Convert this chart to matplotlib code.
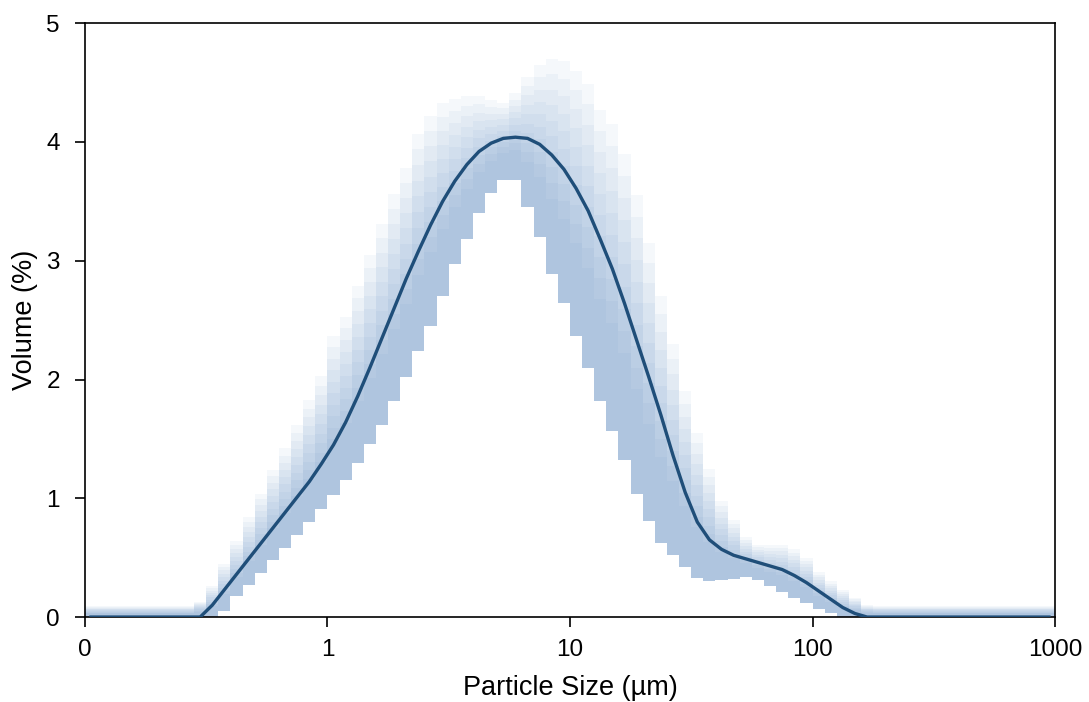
import numpy as np
import matplotlib
matplotlib.use("Agg")
import matplotlib.pyplot as plt

plt.rcParams['font.family'] = ['Liberation Sans', 'DejaVu Sans']

# size classes: 20 per decade, 0.1 - 1000 um
edges = 10 ** np.linspace(-1, 3, 81)
centers = np.sqrt(edges[:-1] * edges[1:])

# spread of the repeated measurements (outer envelope per size class)
band_lo = [0]*11 + [0.05, 0.18, 0.27, 0.37, 0.48, 0.58, 0.69, 0.80, 0.91, 1.03,
                    1.15, 1.30, 1.46, 1.62, 1.82, 2.02, 2.24, 2.45, 2.70, 2.97,
                    3.18, 3.40, 3.57, 3.68, 3.68, 3.45, 3.20, 2.89, 2.64, 2.37,
                    2.10, 1.82, 1.57, 1.32, 1.04, 0.81, 0.62, 0.52, 0.42, 0.33,
                    0.30, 0.31, 0.32, 0.34, 0.31, 0.26, 0.21, 0.16, 0.12, 0.07,
                    0.03] + [0]*18
band_hi = [0.09]*9 + [0.13, 0.26, 0.45, 0.64, 0.84, 1.04, 1.24, 1.42, 1.62, 1.83,
                      2.03, 2.37, 2.53, 2.79, 3.05, 3.31, 3.56, 3.78, 4.07, 4.22,
                      4.33, 4.36, 4.39, 4.39, 4.35, 4.33, 4.41, 4.55, 4.65, 4.70,
                      4.68, 4.60, 4.49, 4.27, 4.15, 3.90, 3.55, 3.15, 2.70, 2.30,
                      1.90, 1.55, 1.25, 0.98, 0.82, 0.67, 0.61, 0.61, 0.61, 0.57,
                      0.50, 0.38, 0.30, 0.23, 0.16, 0.10] + [0.09]*15
# average distribution
mean_vol = [0]*10 + [0.10, 0.23, 0.36, 0.49, 0.62, 0.75, 0.88, 1.01, 1.14, 1.29,
                     1.45, 1.64, 1.86, 2.10, 2.35, 2.60, 2.85, 3.08, 3.30, 3.50,
                     3.67, 3.81, 3.92, 3.99, 4.03, 4.04, 4.03, 3.98, 3.89, 3.77,
                     3.61, 3.42, 3.18, 2.93, 2.64, 2.33, 2.02, 1.70, 1.36, 1.05,
                     0.80, 0.65, 0.57, 0.52, 0.49, 0.46, 0.43, 0.40, 0.35, 0.29,
                     0.22, 0.15, 0.08, 0.03] + [0]*16

xticks = [0.1, 1, 10, 100, 1000]
xticklabels = ['0', '1', '10', '100', '1000']

lo = np.array(band_lo)
hi = np.array(band_hi)
left = edges[:-1]
width = edges[1:] - edges[:-1]

fig = plt.figure(figsize=(10.89, 7.02), dpi=100)
ax = fig.add_axes([0.078, 0.121, 0.8908, 0.846])

# shaded columns, darker toward the bottom of each column
for f in np.linspace(1.0, 0.35, 10):
    ax.bar(left, (hi - lo) * f, width=width, bottom=lo, align='edge',
           color='#4f81bd', alpha=0.055, linewidth=0)

ax.plot(centers, mean_vol, color='#1f4e79', lw=2.4, zorder=5,
        solid_joinstyle='round')

ax.set_xscale('log')
ax.set_xlim(0.1, 1000)
ax.set_ylim(0, 5)
ax.set_xticks(xticks)
ax.set_xticklabels(xticklabels)
ax.xaxis.set_minor_locator(matplotlib.ticker.NullLocator())
ax.set_yticks([0, 1, 2, 3, 4, 5])
ax.tick_params(axis='both', direction='out', length=7, width=1.2,
               labelsize=17.5)
ax.tick_params(axis='x', pad=9)
ax.tick_params(axis='y', pad=11)
for s in ax.spines.values():
    s.set_linewidth(1.2)

ax.set_xlabel('Particle Size (µm)', fontsize=19.5, labelpad=10)
ax.set_ylabel('Volume (%)', fontsize=19.5, labelpad=6)

fig.savefig('out.png', dpi=100)
